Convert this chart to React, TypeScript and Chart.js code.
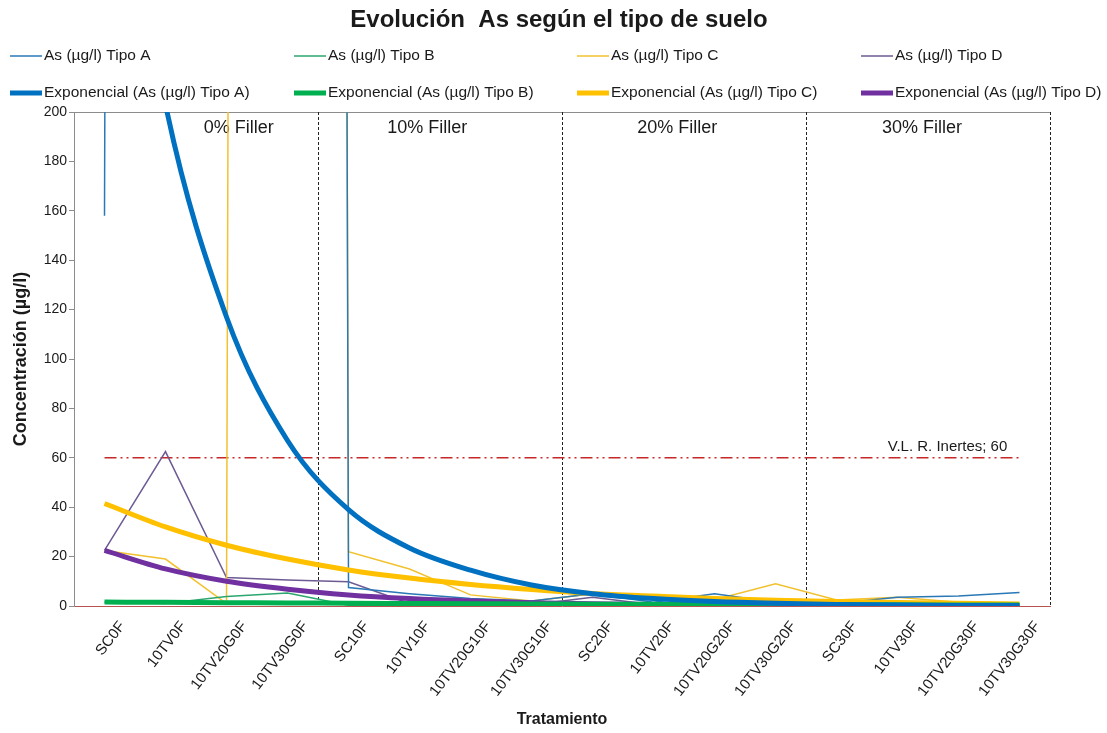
import React, { useEffect, useRef } from 'react';
import { Chart, registerables } from 'chart.js';

Chart.register(...registerables);

const categories = ['SC0F', '10TV0F', '10TV20G0F', '10TV30G0F', 'SC10F', '10TV10F', '10TV20G10F', '10TV30G10F', 'SC20F', '10TV20F', '10TV20G20F', '10TV30G20F', 'SC30F', '10TV30F', '10TV20G30F', '10TV30G30F'];

const tipoA = [158, 8000, 8000, 8000, 7.5, 5, 3, 2, 5, 1.5, 5, 1.5, 1, 3.5, 4, 5.5];
const tipoB = [1.5, 1, 3.8, 5.3, 0.3, 0.3, 0.5, 0.5, 1, 0.5, 0.5, 0.5, 0.3, 0.5, 0.5, 0.3];
const tipoC = [22.5, 19, 1, 8000, 22, 15, 4.5, 2, 5, 3, 2.5, 9, 2.4, 3.5, 1.5, 1];
const tipoD = [22.5, 62.5, 11.5, 10.5, 9.8, 1, 0.5, 0.5, 3.5, 0.5, 0.3, 0.5, 0.3, 0.5, 0.3, 0.3];

const expA = [352, 203, 117, 67, 39, 23.5, 14.5, 8.5, 5, 3, 1.8, 1.1, 0.65, 0.4, 0.25, 0.15];
const expB = [1.6, 1.5, 1.35, 1.25, 1.1, 1.0, 0.9, 0.85, 0.75, 0.7, 0.62, 0.56, 0.5, 0.46, 0.42, 0.38];
const expC = [41.5, 32, 24.6, 19, 14.6, 11.3, 8.7, 6.7, 5.1, 4, 3, 2.3, 1.8, 1.4, 1.1, 0.85];
const expD = [22.5, 15, 10, 6.8, 4.5, 3, 2, 1.35, 0.9, 0.6, 0.4, 0.27, 0.18, 0.12, 0.08, 0.05];

const limitLabel = 'V.L. R. Inertes';
const limitValue = 60;
const limitLine = [60, 60, 60, 60, 60, 60, 60, 60, 60, 60, 60, 60, 60, 60, 60, 60];
const limitLabelPos = 13.82;

const fillerLabels = ['0% Filler', '10% Filler', '20% Filler', '30% Filler'];
const fillerPositions = [2.2, 5.29, 9.39, 13.4];
const sectionBoundaries = [3.5, 7.5, 11.5, 15.5];

const yTicks = [0, 20, 40, 60, 80, 100, 120, 140, 160, 180, 200];

const FONT = "'Liberation Sans', Arial, sans-serif";
const TEXT = '#1a1a1a';

const colA = '#2A78B6', colAe = '#0070C0';
const colB = '#2BA66E', colBe = '#00B050';
const colC = '#F2C12E', colCe = '#FFC000';
const colD = '#6D5A92', colDe = '#7030A0';

const legendCols = [10, 294, 577, 861];
const legendRows = [56, 93];

const overlayPlugin = {
  id: 'overlay',
  beforeDatasetsDraw(chart: any) {
    const { ctx, chartArea, scales } = chart;
    const x = scales.x;
    ctx.save();
    ctx.strokeStyle = '#8c8c8c';
    ctx.lineWidth = 1;
    ctx.beginPath();
    ctx.moveTo(chartArea.left, Math.round(chartArea.top) + 0.5);
    ctx.lineTo(chartArea.right, Math.round(chartArea.top) + 0.5);
    ctx.stroke();
    ctx.strokeStyle = '#222';
    ctx.setLineDash([3, 2]);
    sectionBoundaries.forEach((b) => {
      const px = Math.round(x.getPixelForValue(b)) + 0.5;
      ctx.beginPath();
      ctx.moveTo(px, chartArea.top);
      ctx.lineTo(px, chartArea.bottom);
      ctx.stroke();
    });
    ctx.setLineDash([]);
    ctx.fillStyle = TEXT;
    ctx.font = `18px ${FONT}`;
    ctx.textAlign = 'center';
    ctx.textBaseline = 'middle';
    fillerLabels.forEach((t, i) => {
      ctx.fillText(t, x.getPixelForValue(fillerPositions[i]), chartArea.top + 16);
    });
    ctx.font = `15px ${FONT}`;
    ctx.textBaseline = 'bottom';
    ctx.fillText(`${limitLabel}; ${limitValue}`, x.getPixelForValue(limitLabelPos), scales.y.getPixelForValue(limitValue) - 3);
    ctx.restore();
  },
  afterDraw(chart: any) {
    const { ctx } = chart;
    ctx.save();
    ctx.fillStyle = TEXT;
    ctx.font = `bold 24px ${FONT}`;
    ctx.textAlign = 'center';
    ctx.textBaseline = 'middle';
    ctx.fillText('Evolución  As según el tipo de suelo', 559, 20);
    const ds = chart.data.datasets.filter((d: any) => d.legendIndex !== undefined);
    ds.forEach((d: any) => {
      const i = d.legendIndex;
      const cx = legendCols[i % 4];
      const cy = legendRows[Math.floor(i / 4)];
      ctx.strokeStyle = d.borderColor;
      ctx.lineWidth = d.borderWidth;
      ctx.lineCap = 'butt';
      ctx.beginPath();
      ctx.moveTo(cx, cy);
      ctx.lineTo(cx + 32, cy);
      ctx.stroke();
      ctx.fillStyle = TEXT;
      ctx.font = `15.5px ${FONT}`;
      ctx.textAlign = 'left';
      ctx.textBaseline = 'middle';
      ctx.fillText(d.label, cx + 34, cy);
    });
    ctx.restore();
  },
};

export default function App() {
  const ref = useRef<HTMLCanvasElement>(null);
  useEffect(() => {
    if (!ref.current) return;
    const thin = (label: string, data: number[], color: string, li: number) => ({
      label, data, borderColor: color, backgroundColor: color, borderWidth: 1.5,
      pointRadius: 0, tension: 0, order: 1, legendIndex: li,
    });
    const thick = (label: string, data: number[], color: string, li: number) => ({
      label, data, borderColor: color, backgroundColor: color, borderWidth: 5,
      pointRadius: 0, cubicInterpolationMode: 'monotone', order: 0, legendIndex: li,
    });
    const chart = new Chart(ref.current, {
      type: 'line',
      data: {
        labels: categories,
        datasets: [
          thin('As (µg/l) Tipo A', tipoA, colA, 0),
          thin('As (µg/l) Tipo B', tipoB, colB, 1),
          thin('As (µg/l) Tipo C', tipoC, colC, 2),
          thin('As (µg/l) Tipo D', tipoD, colD, 3),
          thick('Exponencial (As (µg/l) Tipo A)', expA, colAe, 4),
          thick('Exponencial (As (µg/l) Tipo B)', expB, colBe, 5),
          thick('Exponencial (As (µg/l) Tipo C)', expC, colCe, 6),
          thick('Exponencial (As (µg/l) Tipo D)', expD, colDe, 7),
          {
            label: limitLabel, data: limitLine, borderColor: '#C62828', borderWidth: 1.6,
            borderDash: [12, 4, 2, 4, 2, 4], pointRadius: 0, order: 2,
          },
        ] as any,
      },
      options: {
        responsive: false,
        animation: false,
        layout: { padding: { top: 112, right: 57, left: 0, bottom: 0 } },
        plugins: { legend: { display: false }, title: { display: false }, tooltip: { enabled: false } },
        scales: {
          x: {
            type: 'category',
            offset: true,
            afterFit: (s: any) => { s.height = 127; },
            grid: { display: false },
            border: { display: true, color: '#B85450', width: 1 },
            ticks: {
              minRotation: 52, maxRotation: 52, autoSkip: false, labelOffset: 18,
              color: TEXT, font: { family: FONT, size: 15 }, padding: 4,
            },
            title: {
              display: true, text: 'Tratamiento', color: TEXT,
              font: { family: FONT, size: 16, weight: 'bold' }, padding: { top: 0, bottom: 4 },
            },
          },
          y: {
            min: 0, max: 200,
            afterFit: (s: any) => { s.width = 74; },
            afterBuildTicks: (s: any) => { s.ticks = yTicks.map((v) => ({ value: v })); },
            grid: { drawOnChartArea: false, drawTicks: true, tickLength: 5, color: '#8c8c8c' },
            border: { display: true, color: '#8c8c8c', width: 1 },
            ticks: { color: TEXT, font: { family: FONT, size: 14 }, padding: 2 },
            title: {
              display: true, text: 'Concentración (µg/l)', color: TEXT,
              font: { family: FONT, size: 18, weight: 'bold' }, padding: { top: 10, bottom: 4 },
            },
          },
        },
      } as any,
      plugins: [overlayPlugin],
    });
    return () => chart.destroy();
  }, []);
  return (
    <div style={{ position: 'absolute', left: 0, top: 0, width: 1107, height: 733, background: '#fff' }}>
      <canvas ref={ref} width={1107} height={733} style={{ display: 'block' }} />
    </div>
  );
}
